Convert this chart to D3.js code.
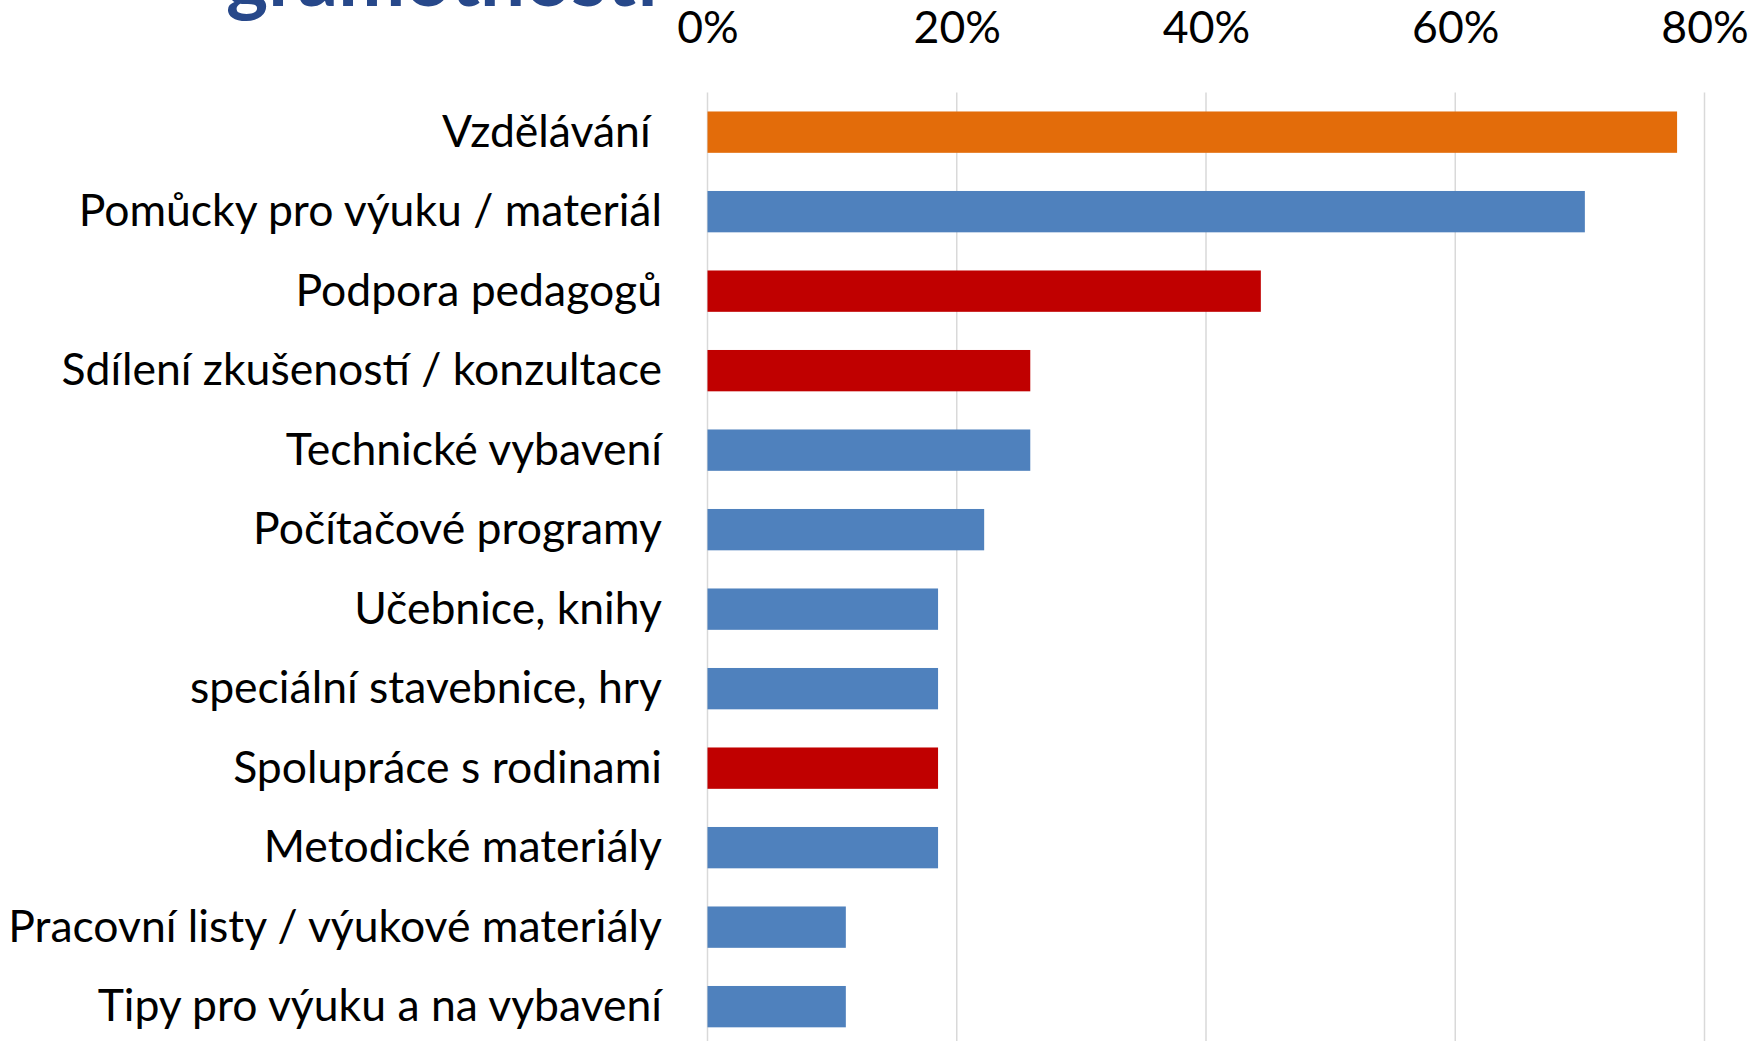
<!DOCTYPE html>
<html>
<head>
<meta charset="utf-8">
<script src="https://cdn.jsdelivr.net/npm/d3@7"></script>
<style>
  html, body { margin: 0; padding: 0; background: #fff; }
  svg text { font-family: Lato, "Open Sans", sans-serif; }
</style>
</head>
<body>
<svg id="chart_svg" width="1748" height="1041"></svg>
<script>
// categories top to bottom
const categories = [
  "Vzdělávání ",
  "Pomůcky pro výuku / materiál",
  "Podpora pedagogů",
  "Sdílení zkušeností / konzultace",
  "Technické vybavení",
  "Počítačové programy",
  "Učebnice, knihy",
  "speciální stavebnice, hry",
  "Spolupráce s rodinami",
  "Metodické materiály",
  "Pracovní listy / výukové materiály",
  "Tipy pro výuku a na vybavení"
]
// share of respondents
const values = [0.778, 0.704, 0.444, 0.259, 0.259, 0.222, 0.185, 0.185, 0.185, 0.185, 0.111, 0.111]
// colour group of each bar
const groups = ["highlight", "material", "people", "people", "material", "material", "material", "material", "people", "material", "material", "material"]
const xTicks = [0, 0.2, 0.4, 0.6, 0.8]
const titleTail = "gramotnosti"

const colors = { highlight: "#E36C0A", material: "#4F81BD", people: "#C00000" }

const svg = d3.select("#chart_svg")
const width = 1748
const height = 1041
const margin = { top: 92.4, left: 707.5, right: 43.5 }
const fontSize = 44.5

const xScale = d3.scaleLinear().domain([0, 0.8]).range([margin.left, width - margin.right])
const yScale = d3.scaleBand()
  .domain(categories)
  .range([margin.top, margin.top + 79.5 * categories.length])
  .paddingInner(0.48)
  .paddingOuter(0.24)

// title remnant (cut off at top, as in the original slide)
svg.append("text")
  .attr("x", 226)
  .attr("y", 6)
  .attr("font-size", 80)
  .attr("font-weight", 700)
  .attr("fill", "#27488A")
  .text(titleTail)

// vertical grid lines
svg.append("g")
  .selectAll("line")
  .data(xTicks)
  .join("line")
  .attr("x1", (d) => xScale(d))
  .attr("x2", (d) => xScale(d))
  .attr("y1", margin.top)
  .attr("y2", height)
  .attr("stroke", "#D9D9D9")
  .attr("stroke-width", 1.5)

// top axis labels
const x_axis = d3.axisTop(xScale)
  .tickValues(xTicks)
  .tickFormat(d3.format(".0%"))
  .tickSize(0)
  .tickPadding(0)

const g_x_axis = svg.append("g")
  .attr("transform", "translate(0,43)")
  .call(x_axis)
g_x_axis.select(".domain").remove()
g_x_axis.selectAll("text")
  .attr("font-size", fontSize)
  .attr("font-family", "Lato, sans-serif")
  .attr("fill", "#000")
  .attr("dy", 0)
  .attr("y", 0)

// bars
svg.append("g")
  .selectAll("rect")
  .data(values)
  .join("rect")
  .attr("x", xScale(0))
  .attr("y", (d, i) => yScale(categories[i]))
  .attr("width", (d) => xScale(d) - xScale(0))
  .attr("height", yScale.bandwidth())
  .attr("fill", (d, i) => colors[groups[i]])

// category labels
svg.append("g")
  .selectAll("text")
  .data(categories)
  .join("text")
  .attr("x", 662)
  .attr("y", (d) => yScale(d) + yScale.bandwidth() / 2)
  .attr("dy", "0.33em")
  .attr("text-anchor", "end")
  .attr("font-size", fontSize)
  .style("white-space", "pre")
  .attr("fill", "#000")
  .text((d) => d)
</script>
</body>
</html>
